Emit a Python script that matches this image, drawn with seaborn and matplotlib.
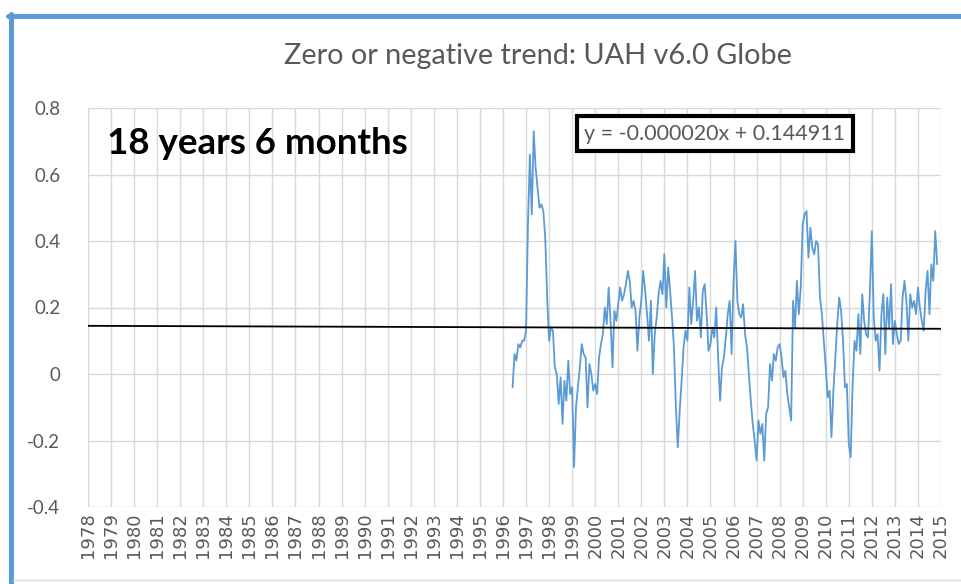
import matplotlib
matplotlib.use("Agg")
import matplotlib.pyplot as plt
from matplotlib.lines import Line2D
import seaborn as sns
import numpy as np

# UAH v6.0 global lower-troposphere anomaly, monthly, May 1997 .. Oct 2015
anomaly = [
    -0.04, 0.06, 0.04, 0.09, 0.08, 0.10, 0.10, 0.13, 0.45, 0.66,
    0.48, 0.73, 0.62, 0.56, 0.50, 0.51, 0.49, 0.41, 0.23, 0.10,
    0.14, 0.13, 0.02, 0.00, -0.09, -0.01, -0.15, -0.02, -0.08, 0.04,
    -0.06, -0.04, -0.28, -0.10, -0.04, 0.02, 0.09, 0.06, 0.05, -0.10,
    0.03, 0.00, -0.05, -0.03, -0.06, 0.05, 0.09, 0.12, 0.20, 0.15,
    0.26, 0.16, 0.02, 0.19, 0.16, 0.21, 0.26, 0.22, 0.24, 0.27,
    0.31, 0.28, 0.20, 0.22, 0.19, 0.07, 0.17, 0.22, 0.31, 0.25,
    0.18, 0.10, 0.22, 0.00, 0.12, 0.17, 0.24, 0.28, 0.24, 0.36,
    0.20, 0.32, 0.25, 0.17, 0.08, -0.10, -0.22, -0.11, -0.02, 0.08,
    0.13, 0.10, 0.26, 0.15, 0.22, 0.31, 0.16, 0.20, 0.11, 0.25,
    0.27, 0.18, 0.07, 0.09, 0.14, 0.11, 0.20, 0.05, -0.08, 0.02,
    0.05, 0.11, 0.18, 0.22, 0.06, 0.28, 0.40, 0.22, 0.18, 0.17,
    0.21, 0.12, 0.08, 0.00, -0.08, -0.15, -0.20, -0.26, -0.14, -0.18,
    -0.15, -0.26, -0.12, -0.10, 0.03, -0.02, 0.06, 0.04, 0.08, 0.09,
    0.05, -0.01, 0.01, -0.06, -0.10, -0.14, 0.22, 0.14, 0.28, 0.18,
    0.26, 0.45, 0.48, 0.49, 0.35, 0.44, 0.38, 0.36, 0.40, 0.39,
    0.23, 0.18, 0.10, 0.02, -0.07, -0.05, -0.19, -0.05, 0.05, 0.15,
    0.23, 0.19, 0.10, -0.04, -0.03, -0.21, -0.25, -0.03, 0.10, 0.07,
    0.18, 0.06, 0.24, 0.16, 0.12, 0.11, 0.25, 0.43, 0.17, 0.10,
    0.12, 0.01, 0.18, 0.24, 0.06, 0.23, 0.14, 0.27, 0.09, 0.16,
    0.12, 0.09, 0.10, 0.23, 0.28, 0.22, 0.10, 0.24, 0.20, 0.22,
    0.18, 0.26, 0.20, 0.16, 0.13, 0.25, 0.31, 0.18, 0.33, 0.28,
    0.43, 0.33,
]
first_month = 221          # May 1997, counted in months from the first category (Dec 1978)
year_labels = [str(y) for y in range(1978, 2016)]
trend_ends = [0, 444]      # month index of the axis ends
trend_values = [0.1449, 0.1360]
y_ticks = [-0.4, -0.2, 0.0, 0.2, 0.4, 0.6, 0.8]
y_labels = ["-0.4", "-0.2", "0", "0.2", "0.4", "0.6", "0.8"]

sns.set_theme(style="white")
plt.rcParams["font.family"] = ["Lato", "DejaVu Sans"]

grey = "#595959"
fig = plt.figure(figsize=(9.62, 5.84), dpi=100)
ax = fig.add_axes([88 / 962, 77 / 584, 853 / 962, 399 / 584])

months = np.arange(first_month, first_month + len(anomaly))
sns.lineplot(x=months, y=anomaly, ax=ax, color="#5B9BD5", linewidth=1.3)
ax.plot(trend_ends, trend_values, color="black", linewidth=1.3)

ax.set_xlim(0, 444)
ax.set_ylim(-0.4, 0.8)
ax.set_xticks(np.arange(0, 445, 12))
ax.set_xticklabels(year_labels, rotation=90, family="DejaVu Sans", fontsize=13, color=grey)
ax.set_yticks(y_ticks)
ax.set_yticklabels(y_labels, fontsize=13.5, color=grey)
ax.tick_params(axis="y", pad=20, length=0)
ax.tick_params(axis="x", pad=4, length=0)
ax.grid(True, color="#D9D9D9", linewidth=1)
for s in ax.spines.values():
    s.set_visible(False)

fig.text(538 / 962, 1 - 56 / 584, "Zero or negative trend: UAH v6.0 Globe",
         ha="center", va="center", fontsize=20.8, color=grey)
ax.text(0.022, 0.91, "18 years 6 months", transform=ax.transAxes,
        ha="left", va="center", fontsize=26.5, fontweight="bold", color="black")
ax.text(0.735, 0.936, "y = -0.000020x + 0.144911", transform=ax.transAxes,
        ha="center", va="center", fontsize=15.5, color=grey,
        bbox=dict(boxstyle="square,pad=0.35", facecolor="white",
                  edgecolor="black", linewidth=3))

# blue chart frame
fig.add_artist(Line2D([10.5 / 962, 10.5 / 962], [0, 1 - 14 / 584],
                      transform=fig.transFigure, color="#5B9BD5", linewidth=3.6))
fig.add_artist(Line2D([8 / 962, 1], [1 - 15.5 / 584, 1 - 15.5 / 584],
                      transform=fig.transFigure, color="#5B9BD5", linewidth=3.6))
fig.add_artist(Line2D([13 / 962, 1], [4 / 584, 4 / 584],
                      transform=fig.transFigure, color="#C9D9EC", linewidth=1))

fig.savefig("out.png", dpi=100)
